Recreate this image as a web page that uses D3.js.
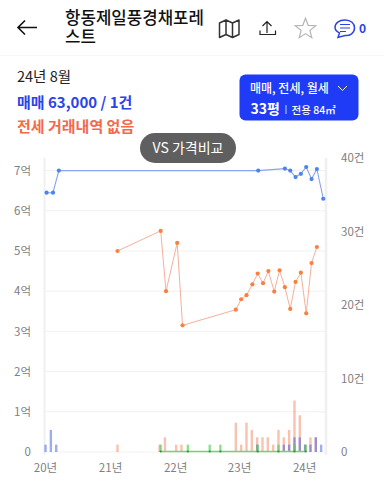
<!DOCTYPE html>
<html><head><meta charset="utf-8">
<style>html,body{margin:0;padding:0;background:#fff;overflow:hidden}svg{display:block}
text{font-family:"Noto Sans CJK KR","Noto Sans",sans-serif}</style>
<script src="https://cdn.jsdelivr.net/npm/d3@7"></script></head><body><svg id="c" width="384" height="482"></svg>
<script>
const yearTicks=[0,12.2,24.4,36.4,48.6];
const yearLabels=["20년","21년","22년","23년","24년"];
const priceTicks=[0,1,2,3,4,5,6,7];
const priceLabels=["0","1억","2억","3억","4억","5억","6억","7억"];
const countTicks=[0,10,20,30,40];
const countLabels=["0","10건","20건","30건","40건"];
const saleMonths=[0.3,1.5,2.6,40,45,46,47,48,49,50,51,52.2];
const salePrices=[6.45,6.45,7,7,7.05,7,6.84,6.92,7.09,6.79,7.04,6.3];
const rentMonths=[13.6,21.7,22.7,24.8,25.8,35.8,36.8,37.8,38.9,39.9,40.9,41.9,43,44,45,46,47,48,49,50,51];
const rentPrices=[5,5.5,4,5.2,3.15,3.54,3.8,3.9,4.17,4.44,4.2,4.5,3.99,4.52,4.1,3.56,4.23,4.46,3.45,4.7,5.1];
const rentBarMonths=[13.6,21.5,22.5,24.6,25.6,35.8,36.8,37.8,38.8,39.8,40.8,41.8,42.8,43.8,44.8,45.8,46.8,47.8,48.8,49.8,50.8];
const rentBarCounts=[1,1,2,1,1,4,1,4,3,2,2,2,1,3,2,3,7,5,1,2,2];
const saleBarMonths=[0.1,1.1,2.1,39.8,44.8,45.8,46.8,47.8,48.8,49.8,50.8,51.8];
const saleBarCounts=[1,3,1,1,1,1,2,2,1,1,2,1];
const monthlyBarMonths=[21.7,26.8,30.9,32.9,39.9,43.8,46.8,48.9];
const monthlyBarCounts=[1,1,1,1,1,1,1,1];
const dateText="24년 8월",saleText="매매 63,000 / 1건",rentText="전세 거래내역 없음";
const title=["항동제일풍경채포레","스트"];

const svg=d3.select("#c");
const x=d3.scaleLinear().domain([0,52]).range([45,322.2]);
const yP=d3.scaleLinear().domain([0,7]).range([452,170.6]);
const yC=d3.scaleLinear().domain([0,40]).range([452,158]);
const plot=svg.append("g");
// frame and gridlines
plot.append("g").selectAll("line").data(priceTicks).join("line")
 .attr("x1",45).attr("x2",326).attr("y1",d=>yP(d)).attr("y2",d=>yP(d)).attr("stroke","#f1f1f1").attr("stroke-width",1);
[[44.5,2],[326,2.6]].forEach(([p,w])=>plot.append("line").attr("x1",p).attr("x2",p).attr("y1",158).attr("y2",455).attr("stroke","#f0f0f0").attr("stroke-width",w));
// axes
const axL=d3.axisLeft(yP).tickValues(priceTicks).tickFormat((d,i)=>priceLabels[i]).tickSize(0);
const gL=svg.append("g").attr("transform","translate(31,0)").call(axL);
gL.select(".domain").remove();
gL.selectAll("text").attr("x",0).attr("fill","#808080").attr("font-size",11.5);
const axR=d3.axisRight(yC).tickValues(countTicks).tickFormat((d,i)=>countLabels[i]).tickSize(0);
const gR=svg.append("g").attr("transform","translate(341,0)").call(axR);
gR.select(".domain").remove();
gR.selectAll("text").attr("x",0).attr("fill","#808080").attr("font-size",11.5);
const axB=d3.axisBottom(x).tickValues(yearTicks).tickFormat((d,i)=>yearLabels[i]).tickSize(0);
const gB=svg.append("g").attr("transform","translate(0,464)").call(axB);
gB.select(".domain").remove();
gB.selectAll("text").attr("y",0).attr("dy","0.71em").attr("fill","#808080").attr("font-size",11.5);
// bars
function bars(ms,cs,col,op){plot.append("g").selectAll("rect").data(ms).join("rect")
 .attr("x",d=>x(d)-1.2).attr("width",2.4).attr("y",(d,i)=>yC(cs[i])).attr("height",(d,i)=>yC(0)-yC(cs[i])).attr("fill",col).attr("fill-opacity",op);}
bars(rentBarMonths,rentBarCounts,"#f2764f",0.45);
bars(saleBarMonths,saleBarCounts,"#3f5ee0",0.5);
bars(monthlyBarMonths,monthlyBarCounts,"#55cc55",0.65);
// monthly baseline
plot.append("line").attr("x1",x(21.7)).attr("x2",x(48.9)).attr("y1",yC(0)-0.5).attr("y2",yC(0)-0.5).attr("stroke","#74d274").attr("stroke-width",1.4);
plot.append("g").selectAll("circle").data(monthlyBarMonths).join("circle").attr("cx",d=>x(d)).attr("cy",yC(0)-0.5).attr("r",1.1).attr("fill","#1f9a2a");
// lines
function series(ms,vs,line,dot,w){
 const l=d3.line().x(d=>x(d[0])).y(d=>yP(d[1]));
 plot.append("path").attr("d",l(d3.zip(ms,vs))).attr("fill","none").attr("stroke",line).attr("stroke-width",w);
 plot.append("g").selectAll("circle").data(ms).join("circle").attr("cx",d=>x(d)).attr("cy",(d,i)=>yP(vs[i])).attr("r",2.1).attr("fill",dot);
}
series(rentMonths,rentPrices,"#f6b09a","#f9803f",1);
series(saleMonths,salePrices,"#8aa2f0","#4a84ee",1.1);
// header
svg.append("rect").attr("x",0).attr("y",55).attr("width",384).attr("height",1).attr("fill","#f7f7f7");
svg.append("path").attr("d","M37 27.5H18.5M25 20.5L18 27.5L25 34.5").attr("fill","none").attr("stroke","#111").attr("stroke-width",1.6);
svg.append("text").attr("font-size",16.8).attr("font-weight",500).attr("fill","#111")
 .selectAll("tspan").data(title).join("tspan").attr("x",65).attr("y",(d,i)=>24+i*19).text(d=>d);
svg.append("path").attr("d","M219.5 23L226 20V34.5L219.5 37.5ZM226 20L232.5 23V37.5L226 34.5M232.5 23L239 20V34.5L232.5 37.5").attr("fill","none").attr("stroke","#333").attr("stroke-width",1.5).attr("stroke-linejoin","round");
svg.append("path").attr("d","M267 33V22.5M262.5 26L267 21.5L271.5 26M260 30.5V34.5H275.5V30.5").attr("fill","none").attr("stroke","#222").attr("stroke-width",1.2);
svg.append("path").attr("d",d3.range(10).map(i=>{const r=i%2?4.6:10.8,a=-Math.PI/2+i*Math.PI/5;return (i?"L":"M")+(305.5+r*Math.cos(a)).toFixed(1)+" "+(29+r*Math.sin(a)).toFixed(1)}).join("")+"Z").attr("fill","none").attr("stroke","#b5b5b5").attr("stroke-width",1.2);
svg.append("path").attr("d","M345 20C351 20 354.5 23.5 354.5 28C354.5 33 350 36 345 35.5L338 37.5L339.5 33C336.5 31.5 335 30 335 27.5C335 23 339 20 345 20Z").attr("fill","none").attr("stroke","#2b44e8").attr("stroke-width",1.5);
svg.append("path").attr("d","M340 24.5H350M340 28H350M340 31.5H346").attr("stroke","#2b44e8").attr("stroke-width",1.1);
svg.append("text").attr("x",359).attr("y",33).attr("font-size",12).attr("font-weight",700).attr("fill","#2b44e8").text("0");
// info
svg.append("text").attr("x",17).attr("y",82).attr("font-size",14.5).attr("fill","#222").text(dateText);
svg.append("text").attr("x",17).attr("y",108).attr("font-size",15).attr("font-weight",700).attr("fill","#2b44e8").text(saleText);
svg.append("text").attr("x",17).attr("y",132).attr("font-size",15).attr("font-weight",700).attr("fill","#f4694a").text(rentText);
// selector
svg.append("rect").attr("x",239.5).attr("y",74.5).attr("width",119).attr("height",46).attr("rx",6).attr("fill","#1f3bf5");
svg.append("text").attr("x",250).attr("y",93).attr("font-size",12).attr("font-weight",500).attr("fill","#fff").text("매매, 전세, 월세");
svg.append("path").attr("d","M338 86L342.5 90.5L347 86").attr("fill","none").attr("stroke","#fff").attr("stroke-width",1);
svg.append("text").attr("x",250.5).attr("y",114).attr("font-size",14).attr("font-weight",700).attr("fill","#fff").text("33평");
svg.append("rect").attr("x",285.5).attr("y",105).attr("width",1).attr("height",9).attr("fill","#c8d0ff");
svg.append("text").attr("x",291.5).attr("y",114).attr("font-size",10.5).attr("font-weight",500).attr("fill","#fff").text("전용 84㎡");
// button
svg.append("rect").attr("x",140).attr("y",133).attr("width",96).attr("height",30).attr("rx",15).attr("fill","#5f5f5f");
svg.append("text").attr("x",188).attr("y",153).attr("text-anchor","middle").attr("font-size",14).attr("fill","#fff").text("VS 가격비교");
</script></body></html>
